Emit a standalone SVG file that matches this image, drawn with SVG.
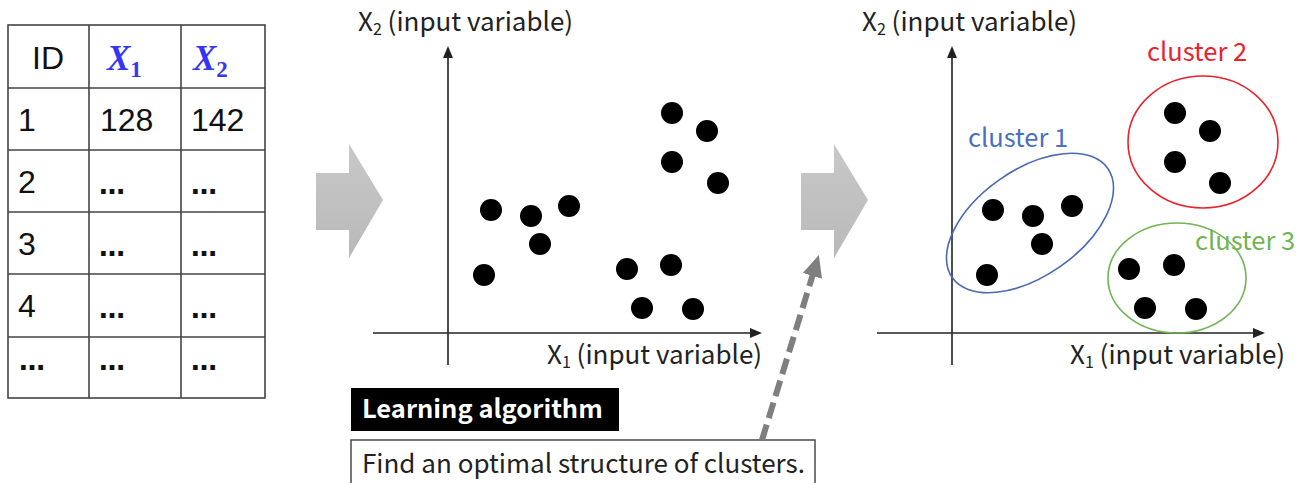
<svg xmlns="http://www.w3.org/2000/svg" width="1299" height="483" viewBox="0 0 1299 483">
  <style>
    .cell { fill: none; stroke: #444; stroke-width: 1.6; }
    .tnum { font-family: "Liberation Sans", Arial, sans-serif; font-size: 32px; fill: #111; }
    .dots { font-family: "DejaVu Sans", sans-serif; font-size: 26px; font-weight: bold; fill: #111; }
    .thead { font-family: "Liberation Serif", "Times New Roman", serif; font-weight: bold; font-style: italic; fill: #3636f2; }
    .axis { stroke: #222; stroke-width: 1.6; fill: none; }
    .lbl { font-family: "Noto Sans CJK JP", "Noto Sans", sans-serif; font-size: 26px; fill: #222; }
    .dot { fill: #000; }
    .clbl { font-family: "Noto Sans CJK JP", "Noto Sans", sans-serif; font-size: 25.5px; }
  </style>
  <defs>
    <linearGradient id="blockGrad" x1="0" y1="0" x2="0" y2="1">
      <stop offset="0" stop-color="#c8c8c8"/>
      <stop offset="1" stop-color="#b9b9b9"/>
    </linearGradient>
    <marker id="axisHead" markerUnits="userSpaceOnUse" markerWidth="12" markerHeight="10" refX="10" refY="5" orient="auto">
      <path d="M0,0 L12,5 L0,10 z" fill="#222"/>
    </marker>
    <marker id="dashHead" markerUnits="userSpaceOnUse" markerWidth="22" markerHeight="20" refX="2" refY="10" orient="auto">
      <path d="M0,0 L22,10 L0,20 z" fill="#7f7f7f"/>
    </marker>
  </defs>

  <!-- data table -->
  <g id="table">
    <rect class="cell" x="8" y="25" width="257" height="373"/>
    <line class="cell" x1="89" y1="25" x2="89" y2="398"/>
    <line class="cell" x1="181" y1="25" x2="181" y2="398"/>
    <line class="cell" x1="8" y1="88" x2="265" y2="88"/>
    <line class="cell" x1="8" y1="150" x2="265" y2="150"/>
    <line class="cell" x1="8" y1="212" x2="265" y2="212"/>
    <line class="cell" x1="8" y1="274" x2="265" y2="274"/>
    <line class="cell" x1="8" y1="337" x2="265" y2="337"/>

    <text class="tnum" x="32" y="69">ID</text>
    <text class="thead" x="107" y="70" font-size="35">X<tspan font-size="23" font-style="normal" dy="7">1</tspan></text>
    <text class="thead" x="193" y="70" font-size="35">X<tspan font-size="23" font-style="normal" dy="7">2</tspan></text>

    <text class="tnum" x="18" y="131">1</text>
    <text class="tnum" x="100" y="131">128</text>
    <text class="tnum" x="191" y="131">142</text>

    <text class="tnum" x="18" y="193">2</text>
    <text class="dots" x="99" y="194">…</text>
    <text class="dots" x="191" y="194">…</text>

    <text class="tnum" x="18" y="255">3</text>
    <text class="dots" x="99" y="256">…</text>
    <text class="dots" x="191" y="256">…</text>

    <text class="tnum" x="18" y="317">4</text>
    <text class="dots" x="99" y="318">…</text>
    <text class="dots" x="191" y="318">…</text>

    <text class="dots" x="19" y="370">…</text>
    <text class="dots" x="99" y="370">…</text>
    <text class="dots" x="191" y="370">…</text>
  </g>

  <!-- block arrows between stages -->
  <g id="arrow-1">
    <path d="M316,173 L349,173 L349,144 L383,200 L349,258 L349,230 L316,230 z" fill="url(#blockGrad)"/>
  </g>
  <g id="arrow-2">
    <path d="M801,173 L834,173 L834,144 L868,200 L834,258 L834,230 L801,230 z" fill="url(#blockGrad)"/>
  </g>

  <!-- scatter of raw data -->
  <g id="scatter-raw">
    <line class="axis" x1="448" y1="365" x2="448" y2="48" marker-end="url(#axisHead)"/>
    <line class="axis" x1="373" y1="333" x2="760" y2="333" marker-end="url(#axisHead)"/>
    <text class="lbl" x="358" y="31">X<tspan font-size="16" dy="4">2</tspan><tspan dy="-4"> (input variable)</tspan></text>
    <text class="lbl" x="547" y="364">X<tspan font-size="16" dy="4">1</tspan><tspan dy="-4"> (input variable)</tspan></text>
    <circle class="dot" cx="672" cy="113" r="11"/>
    <circle class="dot" cx="707" cy="131" r="11"/>
    <circle class="dot" cx="672" cy="162" r="11"/>
    <circle class="dot" cx="718" cy="183" r="11"/>
    <circle class="dot" cx="491" cy="210" r="11"/>
    <circle class="dot" cx="531" cy="216" r="11"/>
    <circle class="dot" cx="569" cy="206" r="11"/>
    <circle class="dot" cx="540" cy="244" r="11"/>
    <circle class="dot" cx="484" cy="275" r="11"/>
    <circle class="dot" cx="627" cy="269" r="11"/>
    <circle class="dot" cx="671" cy="265" r="11"/>
    <circle class="dot" cx="642" cy="308" r="11"/>
    <circle class="dot" cx="693" cy="309" r="11"/>
  </g>

  <!-- scatter with clusters -->
  <g id="scatter-clustered">
    <line class="axis" x1="952" y1="365" x2="952" y2="48" marker-end="url(#axisHead)"/>
    <line class="axis" x1="877" y1="333" x2="1263" y2="333" marker-end="url(#axisHead)"/>
    <text class="lbl" x="862" y="31">X<tspan font-size="16" dy="4">2</tspan><tspan dy="-4"> (input variable)</tspan></text>
    <text class="lbl" x="1070" y="364">X<tspan font-size="16" dy="4">1</tspan><tspan dy="-4"> (input variable)</tspan></text>
    <circle class="dot" cx="993" cy="210" r="11"/>
    <circle class="dot" cx="1033" cy="216" r="11"/>
    <circle class="dot" cx="1072" cy="206" r="11"/>
    <circle class="dot" cx="1042" cy="244" r="11"/>
    <circle class="dot" cx="987" cy="275" r="11"/>
    <circle class="dot" cx="1175" cy="113" r="11"/>
    <circle class="dot" cx="1210" cy="131" r="11"/>
    <circle class="dot" cx="1175" cy="162" r="11"/>
    <circle class="dot" cx="1220" cy="183" r="11"/>
    <circle class="dot" cx="1129" cy="269" r="11"/>
    <circle class="dot" cx="1174" cy="265" r="11"/>
    <circle class="dot" cx="1145" cy="308" r="11"/>
    <circle class="dot" cx="1196" cy="309" r="11"/>
  </g>

  <g id="cluster-1">
    <ellipse cx="1030" cy="223" rx="95" ry="53" transform="rotate(-35 1030 223)" fill="none" stroke="#4a6aae" stroke-width="1.6"/>
    <text class="clbl" x="968" y="147" fill="#4a6fc0">cluster 1</text>
  </g>
  <g id="cluster-2">
    <ellipse cx="1203" cy="142" rx="75" ry="66" fill="none" stroke="#e8232c" stroke-width="1.6"/>
    <text class="clbl" x="1147" y="61" fill="#e8232c">cluster 2</text>
  </g>
  <g id="cluster-3">
    <ellipse cx="1177" cy="278" rx="69" ry="55" fill="none" stroke="#72b454" stroke-width="1.6"/>
    <text class="clbl" x="1195" y="250" fill="#72b454">cluster 3</text>
  </g>

  <!-- learning algorithm callout -->
  <g id="algorithm-title">
    <rect x="351" y="388" width="268" height="43" fill="#000"/>
    <text x="362" y="418" font-family="'Noto Sans CJK JP', 'Noto Sans', sans-serif" font-size="25.5" font-weight="bold" fill="#fff">Learning algorithm</text>
  </g>
  <g id="algorithm-desc">
    <rect x="351" y="440" width="464" height="60" fill="#fff" stroke="#555" stroke-width="1.6"/>
    <text class="lbl" x="362" y="473">Find an optimal structure of clusters.</text>
  </g>

  <g id="connectors">
    <line x1="762" y1="440" x2="813" y2="274" stroke="#7f7f7f" stroke-width="6" stroke-dasharray="16 7" marker-end="url(#dashHead)"/>
  </g>
</svg>
